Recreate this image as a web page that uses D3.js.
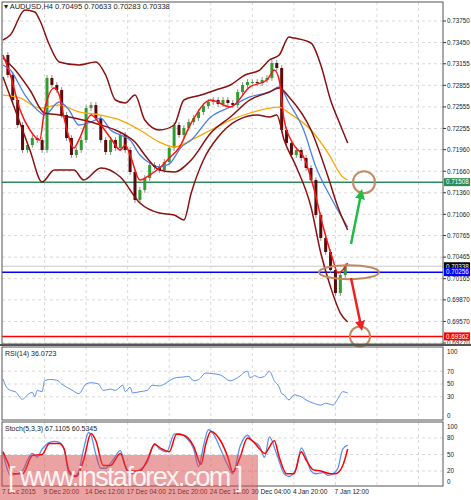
<!DOCTYPE html>
<html><head><meta charset="utf-8">
<script src="https://cdn.jsdelivr.net/npm/d3@7"></script>
<style>body{margin:0;background:#fff}text{font-family:"Liberation Sans",Arial,sans-serif}</style>
</head><body><svg id="c" width="471" height="500"></svg>
<script>
// closes, one value every 2 H4 bars
var closes = [0.73277,0.72999,0.72651,0.72303,0.71955,0.72025,0.72122,0.72094,0.71955,0.72957,
  0.72860,0.72790,0.72442,0.72122,0.71886,0.71955,0.72094,0.72539,0.72581,0.72400,
  0.72094,0.71927,0.72094,0.71983,0.72164,0.71955,0.71649,0.71260,0.71399,0.71565,
  0.71746,0.71719,0.71677,0.71788,0.71983,0.72303,0.72164,0.72261,0.72345,0.72400,
  0.72484,0.72567,0.72623,0.72651,0.72595,0.72651,0.72609,0.72581,0.72762,0.72860,
  0.72901,0.72901,0.72887,0.72929,0.72957,0.73166,0.73096,0.72233,0.72052,0.71886,
  0.71955,0.71844,0.71705,0.71538,0.71051,0.70731,0.70536,0.70286,0.69965,0.70216,0.70338];

// indicator curves as [bar, value]
var bbUpper = [[0,.73486],[3,.73555],[9,.73903],[13,.73875],[15,.73764],[19,.73416],[23,.73180],[31,.73138],[38,.73180],[42,.72999],[46,.72651],[50,.72609],[54,.72720],[58,.72372],[64,.72233],[70,.72303],[74,.72651],[81,.72720],[87,.72790],[93,.72860],[99,.72999],[105,.73068],[109,.73207],[113,.73277],[117,.73527],[119,.73513],[126,.73444],[130,.73138],[134,.72651],[138,.72303],[141,.72052]];
var bbMid = [[0,.73235],[5,.73068],[11,.72790],[17,.72470],[23,.72442],[29,.72400],[36,.72345],[40,.72303],[46,.72233],[50,.72164],[54,.72066],[58,.71886],[64,.71677],[70,.71649],[77,.71816],[85,.72192],[93,.72414],[101,.72651],[109,.72762],[113,.72818],[117,.72693],[126,.72233],[133,.71579],[137,.71162],[141,.70842]];
var bbLower = [[0,.72971],[5,.72512],[11,.71955],[16,.71510],[21,.71677],[29,.71677],[33,.71538],[40,.71705],[48,.71579],[56,.71218],[64,.71078],[70,.71051],[74,.70981],[77,.71357],[82,.71816],[88,.72136],[96,.72372],[104,.72442],[109,.72414],[112,.72442],[115,.72094],[120,.71719],[126,.71162],[130,.70522],[134,.70049],[138,.69687],[141,.69562]];
var maBlue = [[0,.73138],[3,.73068],[9,.72720],[15,.72484],[17,.72442],[23,.72623],[27,.72512],[31,.72303],[36,.72345],[40,.72400],[44,.72233],[48,.72164],[52,.72094],[56,.71886],[60,.71774],[64,.71719],[68,.71760],[73,.71997],[77,.72094],[85,.72414],[93,.72553],[101,.72693],[109,.72762],[113,.72832],[117,.72609],[123,.72233],[128,.71719],[134,.71301],[141,.70884]];
var maOrange = [[0,.72720],[7,.72679],[15,.72539],[23,.72581],[31,.72484],[40,.72442],[48,.72372],[56,.72233],[64,.72066],[70,.71997],[77,.72094],[85,.72233],[93,.72372],[101,.72470],[109,.72539],[113,.72553],[117,.72470],[126,.72233],[133,.71913],[139,.71579],[141,.71538]];
var maRed = [[0,.73277],[3,.72999],[7,.72512],[11,.72233],[15,.72094],[17,.72512],[21,.72818],[23,.72720],[25,.72400],[29,.71983],[31,.72094],[36,.72442],[40,.72303],[44,.72122],[48,.71955],[50,.72025],[52,.71886],[56,.71538],[60,.71607],[64,.71705],[68,.71844],[72,.71983],[77,.72331],[85,.72651],[93,.72553],[101,.72832],[108,.72929],[111,.73068],[113,.72929],[115,.72372],[119,.72025],[123,.71858],[127,.71440],[131,.70884],[135,.70425],[137,.70244],[139,.70286],[141,.70383]];
var rsi = [[0,58],[1,48],[3,40],[5,38],[8,26],[10,33],[12,37],[13,30],[14,40],[16,38],[17,55],[19,57],[22,56],[24,50],[26,45],[28,41],[31,35],[34,50],[36,52],[39,50],[41,40],[44,42],[46,40],[49,48],[50,38],[52,45],[53,36],[56,38],[59,40],[61,48],[64,47],[66,50],[68,55],[71,60],[74,61],[76,62],[78,55],[80,57],[83,67],[86,66],[89,64],[93,55],[96,60],[100,70],[101,60],[103,63],[105,60],[107,62],[109,70],[111,55],[113,45],[114,35],[115,33],[117,25],[119,33],[122,30],[124,25],[127,20],[130,17],[132,20],[134,18],[135,17],[137,27],[139,38],[141,36]];
var stochK = [[0,55],[1,35],[3,12],[6,15],[8,20],[10,40],[12,52],[14,45],[16,60],[19,72],[21,74],[23,72],[25,60],[27,15],[29,10],[31,20],[33,60],[35,90],[36,85],[38,50],[40,25],[42,25],[45,40],[48,57],[50,30],[53,15],[55,20],[59,35],[62,70],[64,60],[67,55],[70,87],[72,88],[75,80],[78,60],[80,28],[82,65],[84,95],[86,88],[89,60],[92,30],[94,15],[97,65],[100,85],[102,75],[105,65],[107,45],[109,82],[112,50],[115,15],[117,10],[120,25],[122,62],[124,45],[126,20],[128,15],[131,17],[133,12],[135,15],[137,25],[139,60],[141,67]];
var stochD = [[0,55],[2,35],[4,15],[8,15],[12,48],[16,50],[19,70],[23,70],[25,60],[27,20],[30,10],[33,40],[36,88],[38,75],[41,30],[44,30],[48,52],[51,20],[56,20],[59,40],[62,68],[65,60],[68,55],[71,87],[74,85],[78,65],[81,32],[83,70],[85,92],[89,75],[92,45],[94,18],[97,45],[100,80],[102,75],[105,60],[107,52],[111,75],[113,45],[116,15],[119,15],[122,55],[124,40],[127,22],[130,20],[134,15],[136,15],[139,30],[141,60]];

var priceTicks = [0.73750,0.73450,0.73155,0.72855,0.72555,0.72255,0.71960,0.71660,0.71360,0.71060,0.70765,0.70465,0.70165,0.69870,0.69570,0.69270];
var timeLabels = ["7 Dec 2015","9 Dec 20:00","14 Dec 12:00","17 Dec 04:00","21 Dec 20:00","24 Dec 12:00","30 Dec 04:00","4 Jan 20:00","7 Jan 12:00"];
var timeBars = [0,17,34,51,68,85,102,119,136];
var levels = [{v:0.71508,c:"#2e8b57",box:"#2e8b57"},{v:0.70338,c:"#c8c8c8",box:"#000"},{v:0.70256,c:"#0000ff",box:"#0000ff"},{v:0.69362,c:"#ff0000",box:"#ff0000"}];

var svg = d3.select("#c");
var L = 2, R = 443;
var x = d3.scaleLinear().domain([0,180]).range([3,443]);
var y = d3.scaleLinear().domain([0.69270,0.73750]).range([343,21]);
var yR = d3.scaleLinear().domain([0,100]).range([416,352]);
var yS = d3.scaleLinear().domain([0,100]).range([482,427]);

function grid(y0, y1, ys) {
  var g = svg.append("g").attr("stroke","#c8c8c8").attr("stroke-dasharray","3,3").attr("stroke-width",0.7);
  timeBars.slice(1).concat([153,170]).forEach(function(b){ g.append("line").attr("x1",x(b)).attr("x2",x(b)).attr("y1",y0).attr("y2",y1); });
  ys.forEach(function(v){ g.append("line").attr("x1",L).attr("x2",R).attr("y1",v).attr("y2",v); });
}
grid(2,344,priceTicks.map(y));
grid(347,420,[30,50,70].map(yR));
grid(422,486,[20,50,80].map(yS));

// axis labels
var ax = svg.append("g").attr("font-size",6.3).attr("fill","#222");
priceTicks.forEach(function(v){
  ax.append("line").attr("x1",R).attr("x2",R+3).attr("y1",y(v)).attr("y2",y(v)).attr("stroke","#333");
  ax.append("text").attr("x",447).attr("y",y(v)+2.3).text(v.toFixed(5));
});
[100,70,50,30,0].forEach(function(v){ ax.append("text").attr("x",447).attr("y",yR(v)+2.3).text(v); });
[100,80,50,20,0].forEach(function(v){ ax.append("text").attr("x",447).attr("y",yS(v)+2.3).text(v); });
timeLabels.forEach(function(t,i){ ax.append("text").attr("x",x(timeBars[i])-1).attr("y",494).attr("font-size",6.6).text(t); });

// level lines
levels.forEach(function(l){
  svg.append("line").attr("x1",L).attr("x2",R).attr("y1",y(l.v)).attr("y2",y(l.v)).attr("stroke",l.c).attr("stroke-width",l.box=="#000"?1:1.5);
});

// candles
var cg = svg.append("g");
closes.forEach(function(c,i){
  if (i==0) return;
  var o = closes[i-1], cx = x(i*2), up = c>=o;
  cg.append("line").attr("x1",cx).attr("x2",cx).attr("y1",y(Math.max(o,c)+0.0004)).attr("y2",y(Math.min(o,c)-0.0004)).attr("stroke","#8a8a8a");
  cg.append("rect").attr("x",cx-1.5).attr("width",3).attr("y",y(Math.max(o,c))).attr("height",Math.max(1,y(Math.min(o,c))-y(Math.max(o,c)))).attr("fill",up?"#2e9e2e":"#5a0c0c");
});

function curve(data, ys, color, w) {
  svg.append("path").datum(data).attr("fill","none").attr("stroke",color).attr("stroke-width",w)
    .attr("d", d3.line().curve(d3.curveMonotoneX).x(function(d){return x(d[0]);}).y(function(d){return ys(d[1]);}));
}
curve(maOrange,y,"#ffa500",1.3);
curve(maBlue,y,"#4d7fe8",1.3);
curve(bbUpper,y,"#8b1010",1.5);
curve(bbMid,y,"#8b1010",1.5);
curve(bbLower,y,"#8b1010",1.5);
curve(maRed,y,"#ff1414",1.5);
curve(rsi,yR,"#5b8ff0",1);
curve(stochK,yS,"#5b8ff0",1.3);
curve(stochD,yS,"#ff0000",1.5);

// annotations
var an = svg.append("g").attr("fill","none").attr("stroke","#c08a60").attr("stroke-width",2);
an.append("circle").attr("cx",364).attr("cy",y(0.71508)).attr("r",11);
an.append("ellipse").attr("cx",349).attr("cy",y(0.70256)).attr("rx",30).attr("ry",7);
an.append("circle").attr("cx",360).attr("cy",y(0.69362)).attr("r",10);
var defs = svg.append("defs");
[["g","#22bb44"],["r","#ee2222"]].forEach(function(a){
  defs.append("marker").attr("id","m"+a[0]).attr("viewBox","0 0 10 10").attr("refX",5).attr("refY",5)
    .attr("markerWidth",4).attr("markerHeight",4).attr("orient","auto")
    .append("path").attr("d","M0,0L10,5L0,10z").attr("fill",a[1]);
});
svg.append("line").attr("x1",351).attr("y1",244).attr("x2",361).attr("y2",194).attr("stroke","#22bb44").attr("stroke-width",2.5).attr("marker-end","url(#mg)");
svg.append("line").attr("x1",351).attr("y1",278).attr("x2",361).attr("y2",326).attr("stroke","#ee2222").attr("stroke-width",2.5).attr("marker-end","url(#mr)");

// frames
var fr = svg.append("g").attr("fill","none").attr("stroke","#555");
fr.append("rect").attr("x",L).attr("y",2).attr("width",R-L).attr("height",342);
fr.append("rect").attr("x",L).attr("y",347).attr("width",R-L).attr("height",73);
fr.append("rect").attr("x",L).attr("y",422).attr("width",R-L).attr("height",64);
svg.append("rect").attr("x",0).attr("y",344).attr("width",471).attr("height",2).attr("fill","#555");

// price boxes
levels.forEach(function(l){
  svg.append("rect").attr("x",444).attr("y",y(l.v)-4).attr("width",26).attr("height",8).attr("fill",l.box);
  svg.append("text").attr("x",446).attr("y",y(l.v)+2.3).attr("font-size",6.3).attr("fill","#fff").text(l.v.toFixed(5));
});

// headers
svg.append("text").attr("x",4).attr("y",9).attr("font-size",7.5).attr("fill","#222").text("\u25BE AUDUSD,H4  0.70495 0.70633 0.70283 0.70338");
svg.append("text").attr("x",5).attr("y",356).attr("font-size",7).attr("fill","#222").text("RSI(14) 36.0723");
svg.append("text").attr("x",5).attr("y",431).attr("font-size",7).attr("fill","#222").text("Stoch(5,3,3) 67.1105 60.5345");

// watermark
svg.append("rect").attr("x",0).attr("y",455).attr("width",258).attr("height",45).attr("fill","rgba(215,70,70,0.5)");
svg.append("text").attr("x",8).attr("y",486).attr("font-size",27).attr("textLength",235).attr("fill","#fff").attr("fill-opacity",0.9).text("[ www.instaforex.com ]");
</script></body></html>
